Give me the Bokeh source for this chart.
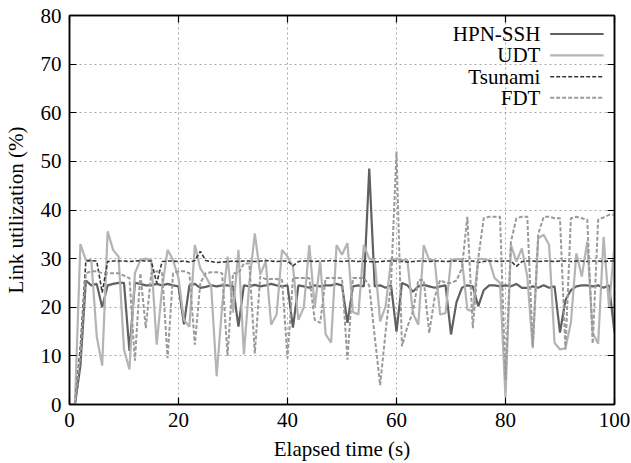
from bokeh.plotting import figure
from bokeh.models import (LinearAxis, FixedTicker, Range1d, Label, Arrow,
                          CustomJSTickFormatter, ColumnDataSource)
from bokeh.embed import file_html
from bokeh.resources import INLINE

# ---------------- data ----------------
time_s = list(range(0, 101))

hpn_ssh = [
    0, 0, 8, 25.5, 24.5, 24.8, 20, 24.5, 24.8, 25,
    25, 11, 25, 24.8, 24.5, 24.5, 24.8, 24.5, 24.8, 24.5,
    24.3, 16.5, 24.5, 24.8, 24, 24.2, 24.5, 24.3, 24.5, 24.5,
    24.3, 16, 24.5, 24.3, 24.6, 24.3, 24.5, 24.8, 24.5, 24.3,
    24.5, 15.8, 24.5, 24.3, 24, 24.5, 24.3, 24.5, 24.5, 24.8,
    24.5, 16.8, 24.3, 24.5, 24.3, 48.5, 24.3, 24.5, 24, 24.5,
    15, 25, 24.5, 23.2, 24.3, 24.6, 24.3, 24, 24.3, 24.5,
    14.4, 21, 24, 24.5, 24.3, 20.2, 23.5, 24.5, 24.5, 24.3,
    24.5, 24.3, 24.8, 24, 24, 24.3, 24, 24.5, 24, 24.3,
    14.8, 21.5, 23.5, 24.3, 24.5, 24.5, 24.3, 24.5, 24, 24.5,
    14.8]

udt = [
    0, 0, 33, 29.7, 29.7, 14, 8, 35.6, 31.8, 30.4,
    11.3, 7.2, 27, 29.7, 30, 29.7, 12.3, 24, 31.8, 29.7,
    26, 17.4, 16, 32.8, 28, 26.3, 24.3, 5.8, 20.2, 30.4,
    18.9, 31.8, 10.3, 25, 35.2, 26.7, 29.4, 16.4, 18.5, 31.8,
    30.4, 28.4, 17.4, 20, 32.8, 20, 29.4, 14.4, 12.7, 32.8,
    30.8, 33.2, 19, 18.5, 32.8, 30, 29.7, 17.1, 20.2, 29.7,
    30, 29.7, 29.7, 18.8, 16.4, 32.8, 29.7, 29.7, 18.5, 18.8,
    29.7, 29.9, 29.9, 19.5, 19.2, 30, 29.9, 29.7, 26, 25,
    1.5, 32.8, 29.4, 32.1, 26.3, 11.6, 34.2, 34.9, 32.8, 12.7,
    11.3, 11.6, 16.8, 31.1, 26.3, 33.5, 14.7, 12.5, 34.5, 20,
    33]

tsunami = [
    0, 0, 12, 29.5, 29.6, 29.5, 23, 29.4, 29.5, 29.5,
    29.5, 29.4, 29.5, 29.6, 29.5, 29.5, 25, 29.4, 29.5, 29.5,
    29.4, 29.5, 29.3, 29.6, 31.5, 29.6, 29.4, 29.2, 29.3, 29.4,
    29.5, 29.4, 29.5, 29.5, 29.4, 29.5, 29.6, 29.5, 29.4, 29.5,
    29.5, 28.5, 29.4, 29.5, 29.5, 29.4, 29.5, 29.5, 29.6, 29.5,
    29.4, 29.5, 29.5, 29.4, 29.5, 29.4, 29.3, 29.4, 29.5, 29.5,
    29.5, 29.4, 29.3, 29.4, 29.5, 29.5, 29.4, 29.5, 29.5, 29.4,
    29.5, 29.5, 29.4, 29.5, 29.5, 29.2, 29.4, 29.5, 29.5, 29.4,
    29.5, 29.5, 28.4, 29.4, 29.5, 29.5, 29.4, 29.5, 29.5, 29.4,
    29.5, 29.5, 29.4, 29.5, 29.5, 29.4, 29.5, 29.5, 29.4, 29.5,
    29.5]

fdt = [
    0, 0, 10, 27, 27.4, 27.4, 27, 27, 27, 27,
    26.5, 26, 9, 27, 15.7, 27, 27.4, 27, 9.5, 27,
    27.4, 27.4, 27, 12.3, 25, 27, 27.2, 27.2, 27, 10,
    27, 27, 29, 29, 10.5, 26.3, 25.8, 25.8, 25.8, 25.6,
    9.5, 26, 26, 26, 26, 17.4, 16.8, 26, 26, 26,
    26, 9.2, 26, 26, 26, 24.5, 14, 4, 15, 25,
    52, 12, 16, 19, 25.6, 25.6, 14.7, 22, 25.6, 25,
    25, 25.5, 28, 38.6, 15.7, 30, 38.3, 38.6, 38.6, 38.6,
    5, 33.5, 38.3, 38.6, 38.6, 12, 35, 38.6, 38.6, 38.3,
    38.3, 11.3, 38.3, 38.6, 38.3, 38, 12.5, 38, 38.5, 39,
    39]

series_names = ["HPN-SSH", "UDT", "Tsunami", "FDT"]
x_ticks = [0, 20, 40, 60, 80, 100]
y_ticks = [0, 10, 20, 30, 40, 50, 60, 70, 80]
x_title = "Elapsed time (s)"
y_title = "Link utilization (%)"

# ---------------- styles ----------------
FONT = "'Liberation Serif', 'DejaVu Serif', serif"
FS = "21px"
styles = [
    dict(color="#606060", width=2.2, dash="solid"),
    dict(color="#b4b4b4", width=2.2, dash="solid"),
    dict(color="#383838", width=1.6, dash="4 2"),
    dict(color="#9a9a9a", width=2.0, dash="4 2"),
]

source = ColumnDataSource(dict(t=time_s, hpn=hpn_ssh, udt=udt, tsu=tsunami, fdt=fdt))
cols = ["hpn", "udt", "tsu", "fdt"]

p = figure(width=631, height=463, x_range=Range1d(0, 100), y_range=Range1d(0, 80),
           output_backend="svg", toolbar_location=None,
           min_border_left=69, min_border_right=17, min_border_top=15, min_border_bottom=58)

p.outline_line_color = "black"
p.outline_line_width = 1.5
p.background_fill_color = "white"
p.border_fill_color = "white"

for col, st in zip(cols, styles):
    p.line("t", col, source=source, line_color=st["color"], line_width=st["width"],
           line_dash=st["dash"])

# axes
def style_axis(ax, ticks, show_labels=True):
    ax.ticker = FixedTicker(ticks=ticks)
    ax.major_tick_in = 7
    ax.major_tick_out = 0
    ax.minor_tick_line_color = None
    ax.axis_line_width = 1.5
    ax.axis_line_color = "black"
    ax.major_tick_line_width = 1.2
    ax.major_tick_line_color = "black"
    ax.major_label_text_font = FONT
    ax.major_label_text_font_size = FS
    ax.major_label_text_color = "black"
    ax.axis_label_text_font = FONT
    ax.axis_label_text_font_size = FS
    ax.axis_label_text_font_style = "normal"
    ax.axis_label_text_color = "black"
    if not show_labels:
        ax.formatter = CustomJSTickFormatter(code="return ''")
        ax.major_label_standoff = 0

style_axis(p.xaxis[0], x_ticks)
style_axis(p.yaxis[0], y_ticks)
p.xaxis[0].axis_label = x_title
p.yaxis[0].axis_label = y_title
p.xaxis[0].major_label_standoff = 8
p.yaxis[0].major_label_standoff = 8
p.xaxis[0].axis_label_standoff = 7
p.yaxis[0].axis_label_standoff = 10

ax_top = LinearAxis()
style_axis(ax_top, x_ticks, show_labels=False)
p.add_layout(ax_top, "above")
ax_right = LinearAxis()
style_axis(ax_right, y_ticks, show_labels=False)
p.add_layout(ax_right, "right")

p.xgrid.grid_line_color = "#a8a8a8"
p.ygrid.grid_line_color = "#a8a8a8"
p.xgrid.grid_line_dash = "2 3"
p.ygrid.grid_line_dash = "2 3"
p.xgrid.grid_line_width = 1
p.ygrid.grid_line_width = 1

# legend (text right-aligned, sample line on the right)
leg_text_x = 86.4
leg_line_x0 = 88.2
leg_line_x1 = 98.0
leg_rows = [76.2, 71.8, 67.4, 63.1]
for name, st, yy in zip(series_names, styles, leg_rows):
    p.add_layout(Label(x=leg_text_x, y=yy, text=name, text_align="right",
                       text_baseline="middle", text_font=FONT, text_font_size=FS,
                       text_color="black"))
    p.add_layout(Arrow(end=None, x_start=leg_line_x0, y_start=yy, x_end=leg_line_x1, y_end=yy,
                       line_color=st["color"], line_width=st["width"], line_dash=st["dash"]))

open("out.html", "w").write(file_html(p, INLINE))
